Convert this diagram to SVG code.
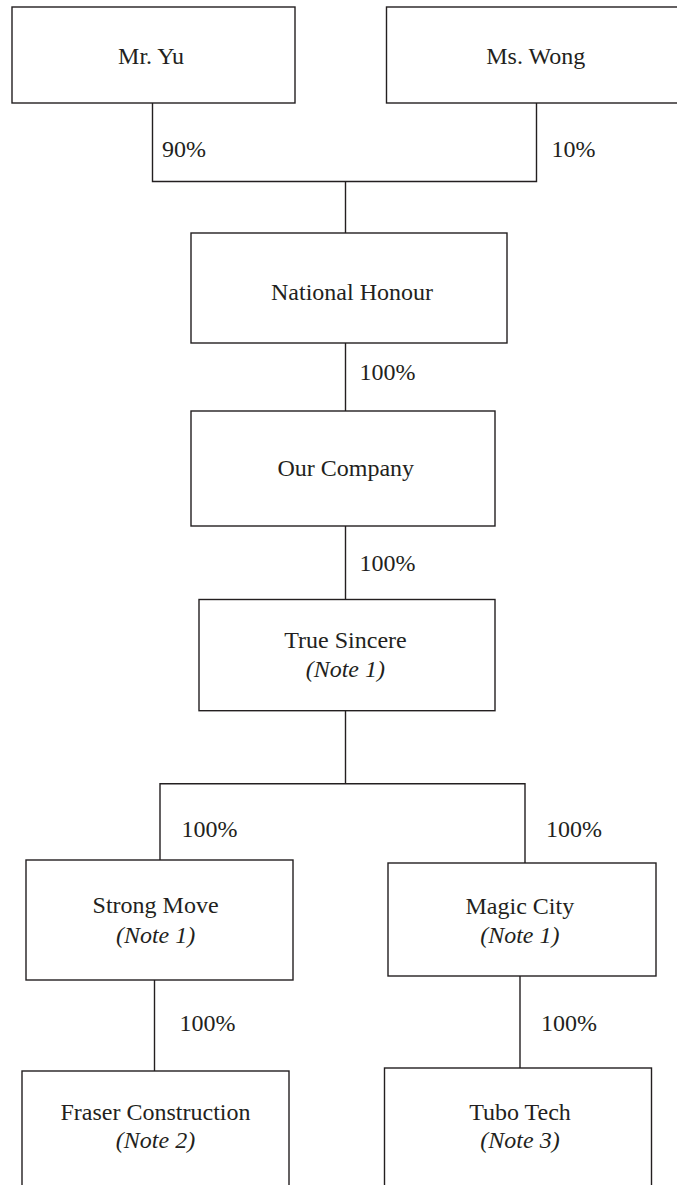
<svg xmlns="http://www.w3.org/2000/svg" width="677" height="1185" viewBox="0 0 677 1185">
<style>
.box{fill:#fff;stroke:#231f20;stroke-width:1.4}
.ln{fill:none;stroke:#231f20;stroke-width:1.4}
text{font-family:"Liberation Serif","Times New Roman",serif;font-size:24px;fill:#231f20}
.c{text-anchor:middle}
.i{font-style:italic}
</style>
<rect width="677" height="1185" fill="#fff"/>
<g id="connectors">
<path class="ln" d="M152.5 103 V181.5 H536.5 V103"/>
<path class="ln" d="M345.5 181.5 V233"/>
<path class="ln" d="M345.5 343 V411"/>
<path class="ln" d="M345.5 526 V599.5"/>
<path class="ln" d="M345.5 710.7 V783.7"/>
<path class="ln" d="M160 860 V783.7 H525 V863"/>
<path class="ln" d="M154.5 980 V1071"/>
<path class="ln" d="M520 976 V1068"/>
<text x="162" y="157">90%</text>
<text x="551.5" y="157">10%</text>
<text x="359.5" y="380">100%</text>
<text x="359.5" y="571">100%</text>
<text x="181.5" y="837">100%</text>
<text x="546" y="837">100%</text>
<text x="179.5" y="1030.5">100%</text>
<text x="541" y="1030.5">100%</text>
</g>
<g id="mr-yu">
<rect class="box" x="12" y="7" width="283" height="96"/>
<text class="c" x="151" y="63.5">Mr. Yu</text>
</g>
<g id="ms-wong">
<rect class="box" x="386.5" y="7" width="300" height="96"/>
<text class="c" x="535.7" y="63.5">Ms. Wong</text>
</g>
<g id="national-honour">
<rect class="box" x="191" y="233" width="316" height="110"/>
<text class="c" x="352" y="299.5">National Honour</text>
</g>
<g id="our-company">
<rect class="box" x="191" y="411" width="304" height="115"/>
<text class="c" x="345.8" y="476">Our Company</text>
</g>
<g id="true-sincere">
<rect class="box" x="199" y="599.5" width="296" height="111.2"/>
<text class="c" x="345.5" y="648.3">True Sincere</text>
<text class="c i" x="345.3" y="676.7">(Note 1)</text>
</g>
<g id="strong-move">
<rect class="box" x="26" y="860" width="267" height="120"/>
<text class="c" x="155.6" y="913.3">Strong Move</text>
<text class="c i" x="155.6" y="942.5">(Note 1)</text>
</g>
<g id="magic-city">
<rect class="box" x="388" y="863" width="268" height="113"/>
<text class="c" x="519.8" y="914">Magic City</text>
<text class="c i" x="519.8" y="942.7">(Note 1)</text>
</g>
<g id="fraser-construction">
<rect class="box" x="22" y="1071" width="267" height="130"/>
<text class="c" x="155.5" y="1119.5">Fraser Construction</text>
<text class="c i" x="155.5" y="1148.3">(Note 2)</text>
</g>
<g id="tubo-tech">
<rect class="box" x="384.5" y="1068" width="267" height="130"/>
<text class="c" x="520" y="1119.5">Tubo Tech</text>
<text class="c i" x="520" y="1148">(Note 3)</text>
</g>
</svg>
